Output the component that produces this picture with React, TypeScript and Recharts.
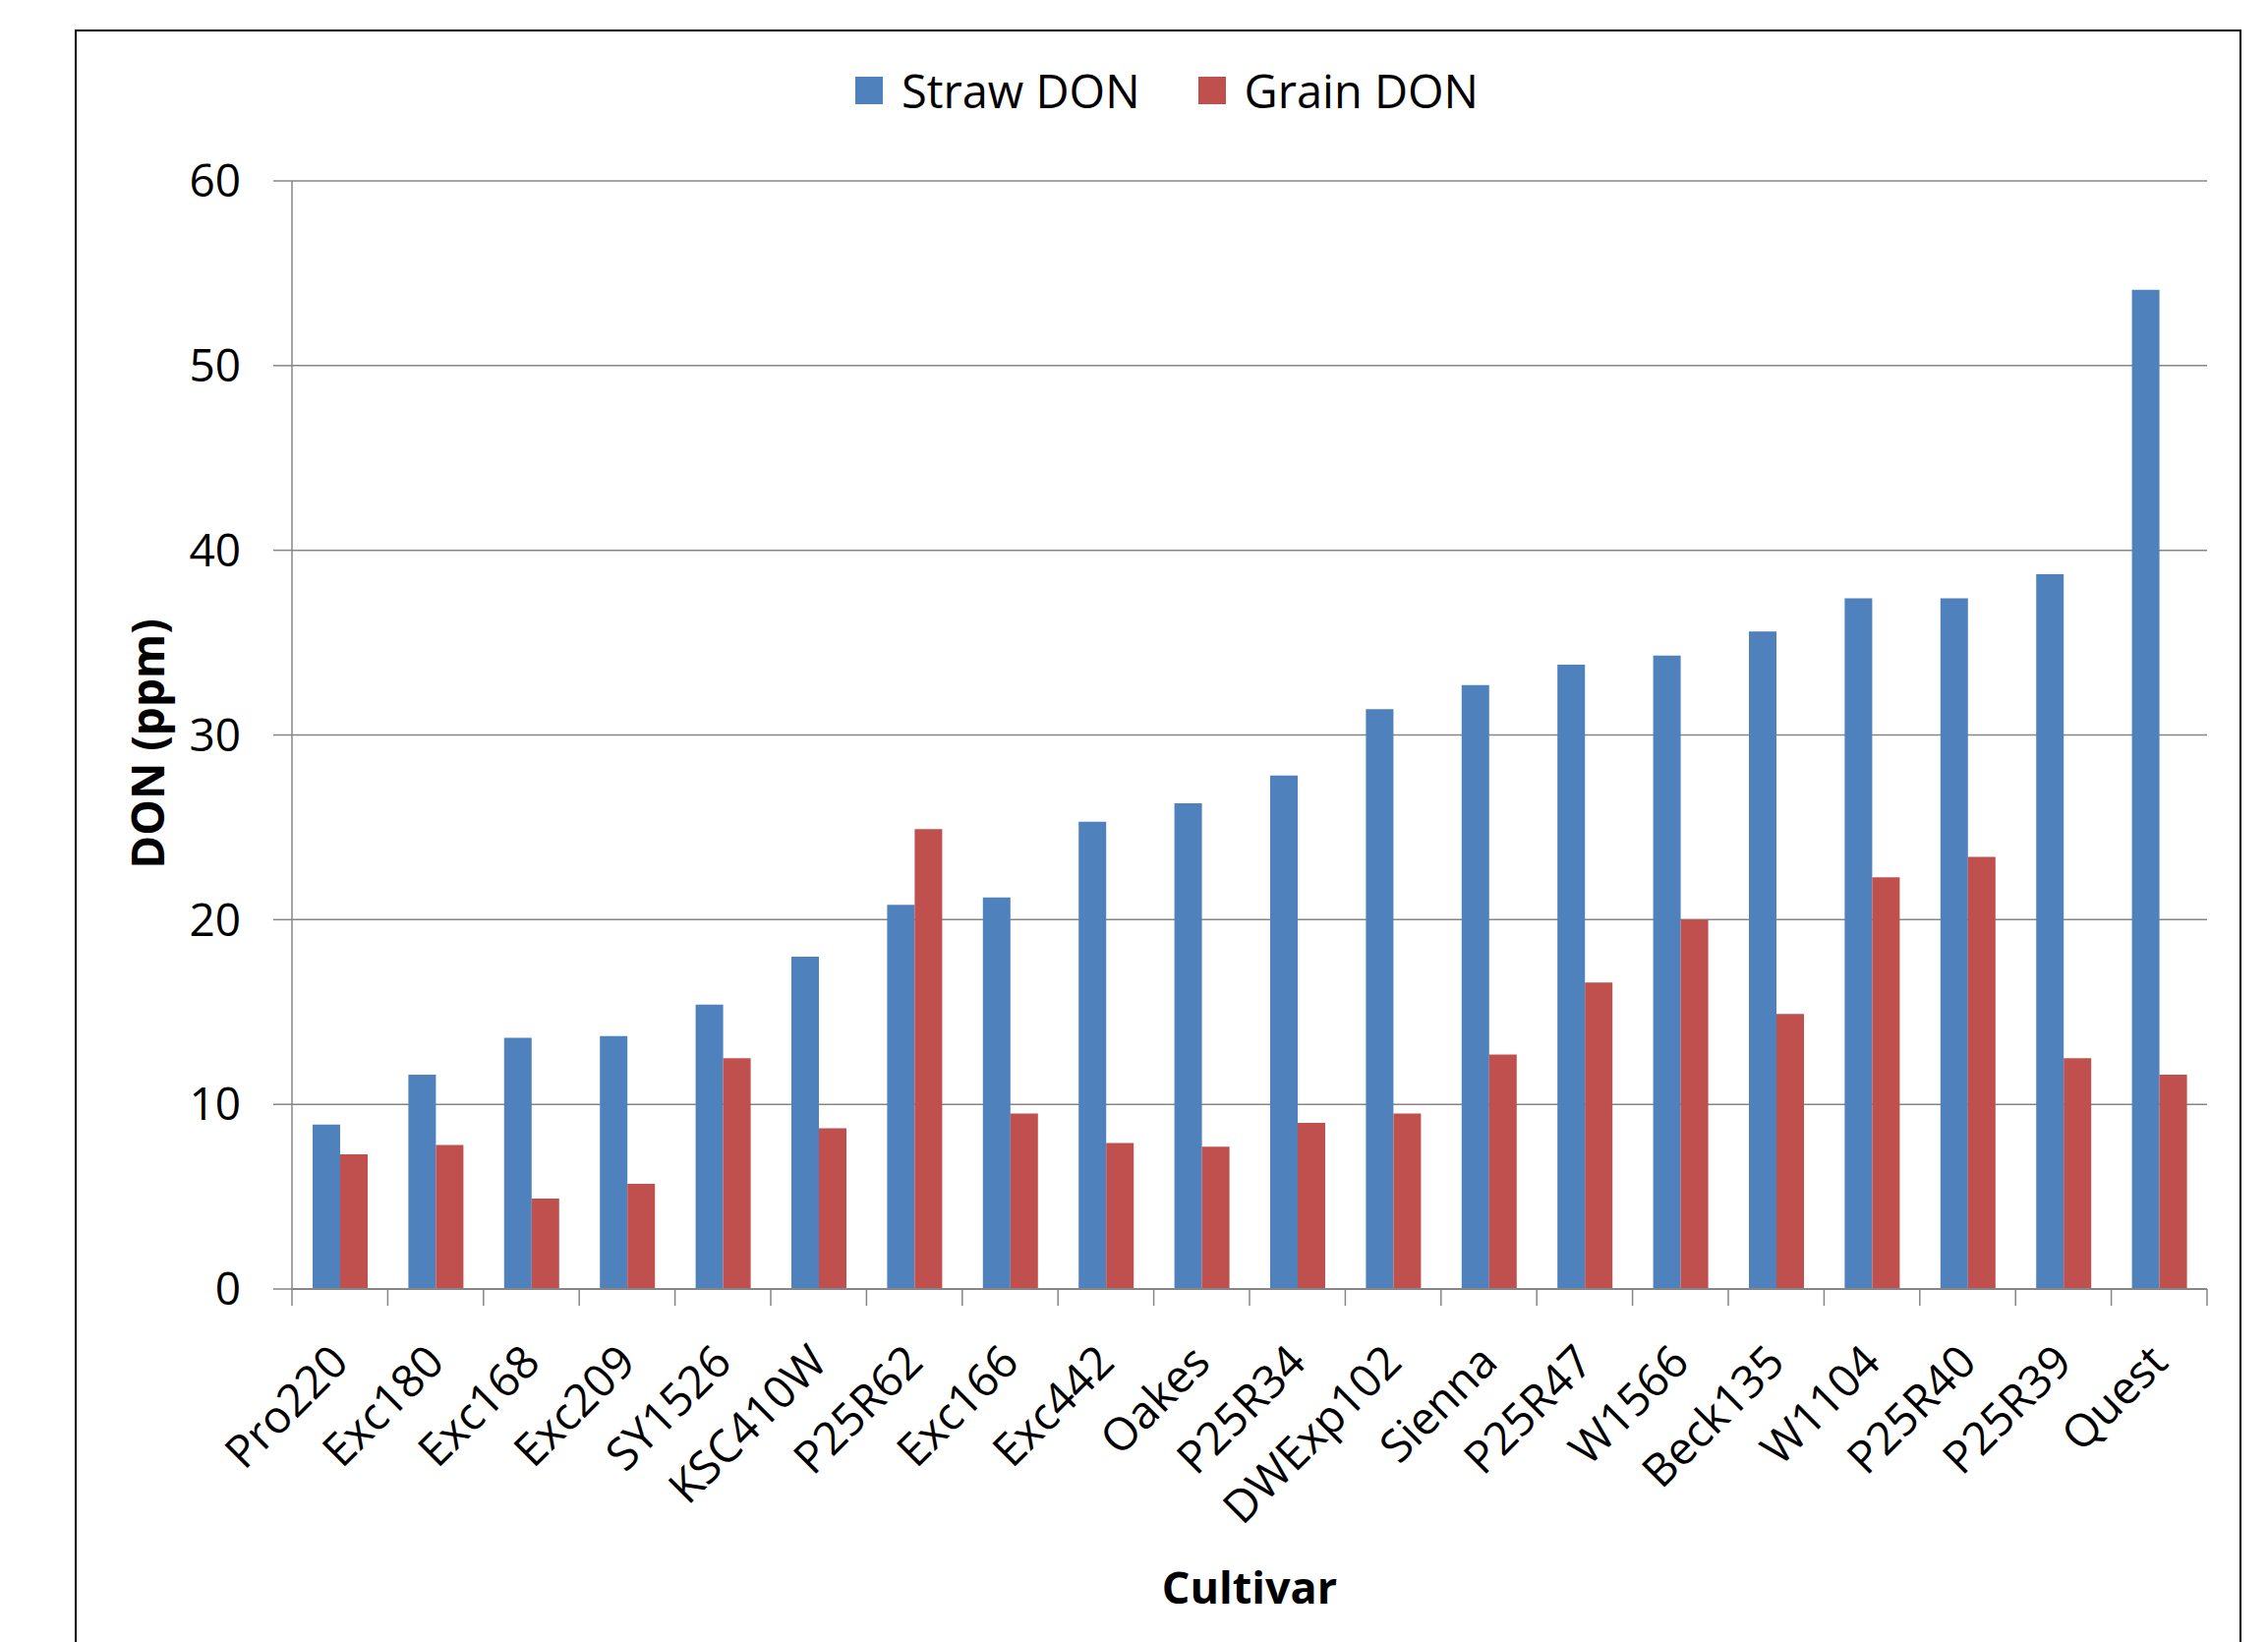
import { BarChart, Bar, XAxis, YAxis, CartesianGrid } from "recharts";

const cultivars = [
  "Pro220", "Exc180", "Exc168", "Exc209", "SY1526", "KSC410W", "P25R62",
  "Exc166", "Exc442", "Oakes", "P25R34", "DWExp102", "Sienna", "P25R47",
  "W1566", "Beck135", "W1104", "P25R40", "P25R39", "Quest",
];
const strawDon = [
  8.9, 11.6, 13.6, 13.7, 15.4, 18.0, 20.8, 21.2, 25.3, 26.3,
  27.8, 31.4, 32.7, 33.8, 34.3, 35.6, 37.4, 37.4, 38.7, 54.1,
];
const grainDon = [
  7.3, 7.8, 4.9, 5.7, 12.5, 8.7, 24.9, 9.5, 7.9, 7.7,
  9.0, 9.5, 12.7, 16.6, 20.0, 14.9, 22.3, 23.4, 12.5, 11.6,
];
const yTicks = [0, 10, 20, 30, 40, 50, 60];
const seriesNames = ["Straw DON", "Grain DON"];
const seriesColors = ["#4F81BD", "#C0504D"];

const FONT = "'Open Sans', 'Noto Sans', sans-serif";
const AXIS = "#868686";

const rows = cultivars.map((c, i) => ({
  cultivar: c,
  straw: strawDon[i],
  grain: grainDon[i],
}));

function CultivarTick(props: any) {
  const { x, y, payload, index } = props;
  const half = payload?.offset || 48.7;
  const last = index === cultivars.length - 1;
  return (
    <g>
      <line x1={x - half} y1={y} x2={x - half} y2={y + 17} stroke={AXIS} strokeWidth={1.5} />
      {last && (
        <line x1={x + half} y1={y} x2={x + half} y2={y + 17} stroke={AXIS} strokeWidth={1.5} />
      )}
      <text
        transform={`translate(${x + 11},${y + 77}) rotate(-45)`}
        textAnchor="end"
        fontSize={46}
        fontFamily={FONT}
        fill="#000"
      >
        {payload.value}
      </text>
    </g>
  );
}

function YTitle(props: any) {
  const vb = props.viewBox || {};
  const cy = vb.y != null ? vb.y + vb.height / 2 + 9 : 756;
  return (
    <text
      transform={`translate(167,${cy}) rotate(-90)`}
      textAnchor="middle"
      fontSize={46}
      fontWeight="bold"
      fontFamily={FONT}
      fill="#000"
    >
      DON (ppm)
    </text>
  );
}

export default function App() {
  return (
    <div
      style={{
        position: "absolute",
        left: 0,
        top: 0,
        width: 2307,
        height: 1670,
        overflow: "hidden",
        background: "#fff",
        fontFamily: FONT,
      }}
    >
      <div
        style={{
          position: "absolute",
          left: 76,
          top: 30,
          width: 2204,
          height: 1720,
          border: "2px solid #000",
          boxSizing: "border-box",
        }}
      />
      <div
        style={{
          position: "absolute",
          left: 870,
          top: 62,
          height: 60,
          display: "flex",
          alignItems: "center",
          gap: 59,
        }}
      >
        {seriesNames.map((name, i) => (
          <div key={name} style={{ display: "flex", alignItems: "center" }}>
            <span
              style={{
                display: "inline-block",
                width: 28,
                height: 28,
                background: seriesColors[i],
                marginRight: 19,
              }}
            />
            <span style={{ fontSize: 47, lineHeight: "60px", color: "#000" }}>{name}</span>
          </div>
        ))}
      </div>
      <div style={{ position: "absolute", left: 0, top: 0 }}>
        <BarChart
          width={2307}
          height={1670}
          data={rows}
          margin={{ top: 184, right: 62, bottom: 0, left: 177 }}
          barCategoryGap={21}
          barGap={0}
        >
          <CartesianGrid vertical={false} stroke={AXIS} strokeWidth={1.5} />
          <XAxis
            dataKey="cultivar"
            interval={0}
            height={359}
            tickLine={false}
            tickSize={0}
            tickMargin={0}
            axisLine={{ stroke: AXIS, strokeWidth: 2 }}
            tick={<CultivarTick />}
            label={{
              value: "Cultivar",
              position: "insideBottom",
              offset: 39,
              fontSize: 45,
              fontWeight: "bold",
              fontFamily: FONT,
              fill: "#000",
            }}
          />
          <YAxis
            width={120}
            domain={[0, 60]}
            ticks={yTicks}
            interval={0}
            tickSize={19}
            tickMargin={33}
            axisLine={{ stroke: AXIS, strokeWidth: 1.5 }}
            tickLine={{ stroke: AXIS, strokeWidth: 1.5 }}
            tick={{ fontSize: 46, fill: "#000", fontFamily: FONT }}
            label={YTitle}
          />
          <Bar dataKey="straw" name={seriesNames[0]} fill={seriesColors[0]} isAnimationActive={false} />
          <Bar dataKey="grain" name={seriesNames[1]} fill={seriesColors[1]} isAnimationActive={false} />
        </BarChart>
      </div>
    </div>
  );
}
